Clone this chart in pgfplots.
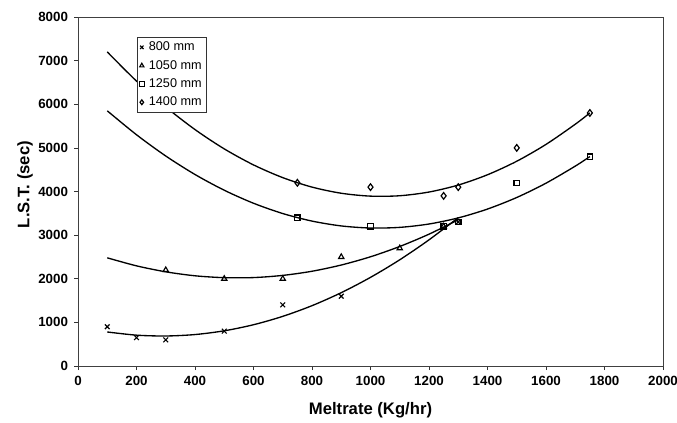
\documentclass[border=0pt]{standalone}
\usepackage{pgfplots}
\pgfplotsset{compat=1.18}
\usepackage{fontspec}
\setmainfont{Liberation Sans}[BoldFont={Liberation Sans Bold}]
\begin{document}
\begin{tikzpicture}
\useasboundingbox (0,0) rectangle (507.75pt,316.5pt);
\begin{axis}[
  at={(58.5pt,42pt)}, anchor=south west,
  scale only axis, width=438.75pt, height=261.75pt,
  xmin=0, xmax=2000, ymin=0, ymax=8000,
  xtick={0,200,...,2000}, ytick={0,1000,...,8000},
  xtick pos=bottom, ytick pos=left,
  tick align=outside, tick style={black!80, line width=0.5pt},
  major tick length=3pt,
  axis line style={black!75, line width=0.6pt},
  /pgf/number format/assume math mode=true,
  /pgf/number format/set thousands separator={},
  xticklabel style={font=\fontsize{10}{12}\selectfont\bfseries, yshift=-1pt},
  yticklabel style={font=\fontsize{10}{12}\selectfont\bfseries, xshift=-1pt},
  xlabel={Meltrate (Kg/hr)},
  ylabel={L.S.T. (sec)},
  every axis x label/.style={at={(axis description cs:0.5,0)}, anchor=center, yshift=-33pt, font=\fontsize{12.5}{14}\selectfont\bfseries},
  every axis y label/.style={at={(axis description cs:-0.0906,0.52)}, rotate=90, anchor=center, font=\fontsize{12.5}{14}\selectfont\bfseries},
  legend style={at={(0.101,0.943)}, anchor=north west, draw=black!80, line width=0.5pt,
    font=\fontsize{9.5}{11}\selectfont, inner sep=1.5pt, row sep=1.6pt,
    legend cell align=left, /tikz/every odd column/.append style={column sep=1.5pt}},
  legend image code/.code={\draw[#1, mark repeat=2, mark phase=2] plot coordinates {(0cm,0cm) (0.1cm,0cm) (0.2cm,0cm)};},
  legend image post style={xshift=-0.06cm, mark size=1.8pt},
  clip=false,
]
% data points
\addplot[only marks, mark=x, mark size=2.5pt, line width=0.85pt, black]
  coordinates {(100,900) (200,650) (300,600) (500,800) (700,1400) (900,1600) (1300,3300)};
\addlegendentry{800 mm}
\addplot[only marks, mark=triangle, mark size=2.3pt, line width=0.85pt, black]
  coordinates {(300,2200) (500,2000) (700,2000) (900,2500) (1100,2700) (1250,3200)};
\addlegendentry{1050 mm}
\addplot[only marks, mark=square, mark size=2pt, line width=0.9pt, black]
  coordinates {(750,3400) (1000,3200) (1250,3200) (1300,3300) (1500,4200) (1750,4800)};
\addlegendentry{1250 mm}
\addplot[only marks, mark=diamond, mark size=2.5pt, line width=0.9pt, black]
  coordinates {(750,4200) (1000,4100) (1250,3900) (1300,4100) (1500,5000) (1750,5800)};
\addlegendentry{1400 mm}
% trend curves
\addplot[smooth, no marks, black, line width=1pt, forget plot]
  coordinates {(100,780) (200,707) (300,688) (400,721) (500,807) (600,946) (700,1138) (800,1383) (900,1681) (1000,2032) (1100,2435) (1200,2892) (1300,3401)};
\addplot[smooth, no marks, black, line width=1pt, forget plot]
  coordinates {(100,2480) (200,2296) (300,2159) (400,2068) (500,2025) (600,2027) (700,2077) (800,2172) (900,2315) (1000,2504) (1100,2740) (1200,3022) (1300,3351)};
\addplot[smooth, no marks, black, line width=1pt, forget plot]
  coordinates {(100,5850) (200,5301) (300,4814) (400,4390) (500,4029) (600,3731) (700,3495) (800,3322) (900,3211) (1000,3163) (1100,3178) (1200,3255) (1300,3395) (1400,3598) (1500,3863) (1600,4191) (1700,4582) (1750,4801)};
\addplot[smooth, no marks, black, line width=1pt, forget plot]
  coordinates {(100,7200) (200,6531) (300,5938) (400,5420) (500,4977) (600,4610) (700,4318) (800,4101) (900,3960) (1000,3894) (1100,3903) (1200,3988) (1300,4148) (1400,4384) (1500,4694) (1600,5080) (1700,5542) (1750,5801)};
\end{axis}
\end{tikzpicture}
\end{document}
